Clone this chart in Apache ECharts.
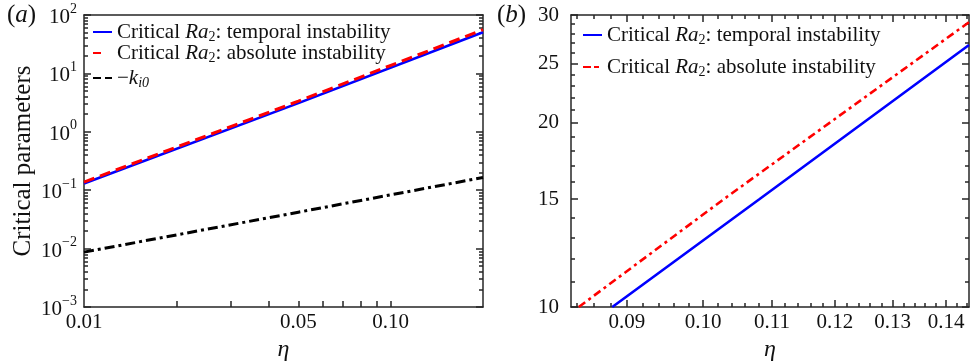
<!DOCTYPE html>
<html>
<head>
<meta charset="utf-8">
<script src="https://cdn.jsdelivr.net/npm/echarts@6/dist/echarts.min.js"></script>
<style>html,body{margin:0;padding:0;background:#fff}#c{width:973px;height:363px}</style>
</head>
<body>
<div id="c"></div>
<script>
// ---------- data ----------
// Panel (a): log-log
const etaA = [0.01, 0.05, 0.2];
const ra2TemporalA = [0.13, 3.1, 50.5];
const ra2AbsoluteA = [0.138, 3.35, 56];
const negKi0A = [0.0087, 0.042, 0.165];
// Panel (b)
const etaTemporalB = [0.0882, 0.1081, 0.1445];
const ra2TemporalB = [10, 15, 26.8];
const etaAbsoluteB = [0.0842, 0.1029, 0.1445];
const ra2AbsoluteB = [10, 15, 29.2];
// tick labels
const xTickValsA = [0.01, 0.05, 0.1];
const xTickLabelsA = ['0.01', '0.05', '0.10'];
const xMinorA = [0.02, 0.03, 0.04, 0.05, 0.06, 0.07, 0.08, 0.09, 0.1];
const yTickValsA = [0.001, 0.01, 0.1, 1, 10, 100];
const xTickValsB = [0.09, 0.10, 0.11, 0.12, 0.13, 0.14];
const xTickLabelsB = ['0.09', '0.10', '0.11', '0.12', '0.13', '0.14'];
const yTickValsB = [10, 15, 20, 25, 30];
const yTickLabelsB = ['10', '15', '20', '25', '30'];

// minor tick positions
const yMinorA = [];
for (let e = -3; e < 2; e++) for (let m = 2; m <= 9; m++) yMinorA.push(+(m * Math.pow(10, e)).toPrecision(3));
const xMinorB = [];
for (let k = 84; k <= 144; k += 2) if (k % 10 !== 0) xMinorB.push(k / 1000);
const yMinorB = [];
for (let k = 11; k < 30; k++) if (k % 5 !== 0) yMinorB.push(k);

const FONT = 'Liberation Serif';
const AX = '#262626';
const TXT = '#111';
const zip = (xs, ys) => xs.map((x, i) => [x, ys[i]]);

const supRich = {
  b: {fontFamily: FONT, fontSize: 21, color: TXT, lineHeight: 26, verticalAlign: 'bottom'},
  p: {fontFamily: FONT, fontSize: 14, color: TXT, lineHeight: 14, verticalAlign: 'top'}
};
const legRich = {
  n: {fontFamily: FONT, fontSize: 21, color: TXT, lineHeight: 24},
  i: {fontFamily: FONT, fontSize: 21, color: TXT, fontStyle: 'italic', lineHeight: 24},
  s: {fontFamily: FONT, fontSize: 14, color: TXT, lineHeight: 14, verticalAlign: 'bottom', padding: [9, 0, 0, 0]},
  si: {fontFamily: FONT, fontSize: 14, color: TXT, fontStyle: 'italic', lineHeight: 14, verticalAlign: 'bottom', padding: [9, 0, 0, 0]}
};
const legendText = {
  aT: '{n|Critical }{i|Ra}{s|2}{n|: temporal instability}',
  aA: '{n|Critical }{i|Ra}{s|2}{n|: absolute instability}',
  aK: '{n|−}{i|k}{si|i0}',
  bT: '{n|Critical }{i|Ra}{s|2}{n|: temporal instability}',
  bA: '{n|Critical }{i|Ra}{s|2}{n|: absolute instability}'
};

function mkAxis(o) {
  return {
    type: 'log', logBase: 10, gridIndex: o.grid, min: o.min, max: o.max, position: o.pos,
    name: o.name || '', nameLocation: 'middle', nameGap: o.nameGap || 0,
    nameTextStyle: o.nameStyle || {},
    axisLine: {show: !!o.line, onZero: false, lineStyle: {color: AX, width: 1.5}},
    axisTick: o.ticks && o.ticks.length ? {show: true, inside: true, length: o.len, customValues: o.ticks,
      lineStyle: {color: AX, width: 1.5}} : {show: false},
    axisLabel: o.labels ? {
      show: true, customValues: o.labels, formatter: o.fmt, margin: o.margin,
      fontFamily: FONT, fontSize: 21, color: TXT, rich: supRich
    } : {show: false},
    splitLine: {show: false}, minorTick: {show: false}, minorSplitLine: {show: false}
  };
}

const fmtXA = v => xTickLabelsA[xTickValsA.findIndex(t => Math.abs(t - v) < 1e-9)] || '';
const fmtYA = v => {
  const e = Math.round(Math.log10(v));
  return '{b|10}{p|' + (e < 0 ? '−' + (-e) : String(e)) + '}';
};
const fmtXB = v => xTickLabelsB[xTickValsB.findIndex(t => Math.abs(t - v) < 1e-9)] || '';
const fmtYB = v => yTickLabelsB[yTickValsB.findIndex(t => Math.abs(t - v) < 1e-9)] || '';

const etaStyle = {fontFamily: FONT, fontSize: 24, fontStyle: 'italic', color: TXT};
const XA = [0.01, 0.2], YA = [0.001, 100], XB = [0.0833, 0.1445], YB = [10, 30];
const MAJ = 7, MIN = 4;

const xAxes = [
  mkAxis({grid: 0, min: XA[0], max: XA[1], pos: 'bottom', line: true, len: 6, ticks: xMinorA, labels: xTickValsA, fmt: fmtXA, margin: 5, name: 'η', nameGap: 26, nameStyle: etaStyle}),
  mkAxis({grid: 0, min: XA[0], max: XA[1], pos: 'top', line: true}),
  mkAxis({grid: 1, min: XB[0], max: XB[1], pos: 'bottom', line: true, len: MAJ, ticks: xTickValsB, labels: xTickValsB, fmt: fmtXB, margin: 5, name: 'η', nameGap: 26, nameStyle: etaStyle}),
  mkAxis({grid: 1, min: XB[0], max: XB[1], pos: 'bottom', line: false, len: MIN, ticks: xMinorB}),
  mkAxis({grid: 1, min: XB[0], max: XB[1], pos: 'top', line: true, len: MAJ, ticks: xTickValsB}),
  mkAxis({grid: 1, min: XB[0], max: XB[1], pos: 'top', line: false, len: MIN, ticks: xMinorB})
];
const yAxes = [
  mkAxis({grid: 0, min: YA[0], max: YA[1], pos: 'left', line: true, len: MAJ, ticks: yTickValsA, labels: yTickValsA, fmt: fmtYA, margin: 7,
    name: 'Critical parameters', nameGap: 48, nameStyle: {fontFamily: FONT, fontSize: 25, color: TXT}}),
  mkAxis({grid: 0, min: YA[0], max: YA[1], pos: 'left', line: false, len: MIN, ticks: yMinorA}),
  mkAxis({grid: 0, min: YA[0], max: YA[1], pos: 'right', line: true, len: MAJ, ticks: yTickValsA}),
  mkAxis({grid: 0, min: YA[0], max: YA[1], pos: 'right', line: false, len: MIN, ticks: yMinorA}),
  mkAxis({grid: 1, min: YB[0], max: YB[1], pos: 'left', line: true, len: MAJ, ticks: yTickValsB, labels: yTickValsB, fmt: fmtYB, margin: 12}),
  mkAxis({grid: 1, min: YB[0], max: YB[1], pos: 'left', line: false, len: MIN, ticks: yMinorB}),
  mkAxis({grid: 1, min: YB[0], max: YB[1], pos: 'right', line: true, len: MAJ, ticks: yTickValsB}),
  mkAxis({grid: 1, min: YB[0], max: YB[1], pos: 'right', line: false, len: MIN, ticks: yMinorB})
];

function line(id, xi, yi, data, color, type, width) {
  return {
    type: 'line', name: id, xAxisIndex: xi, yAxisIndex: yi, data: data,
    symbol: 'none', showSymbol: false, smooth: false, silent: true, animation: false, clip: true,
    lineStyle: {color: color, width: width || 2.6, type: type, cap: 'butt'},
    itemStyle: {color: color}, z: 3
  };
}

const series = [
  line('aT', 0, 0, zip(etaA, ra2TemporalA), '#0000ff', 'solid'),
  line('aA', 0, 0, zip(etaA, ra2AbsoluteA), '#ff0000', [11, 6], 3),
  line('aK', 0, 0, zip(etaA, negKi0A), '#000000', [10, 4, 3, 4], 3),
  line('bT', 2, 4, zip(etaTemporalB, ra2TemporalB), '#0000ff', 'solid'),
  line('bA', 2, 4, zip(etaAbsoluteB, ra2AbsoluteB), '#ff0000', [8, 4, 3, 4], 2.6)
];

function legend(name, left, centerY, lineType) {
  const item = {name: name, itemStyle: {opacity: 0, color: 'transparent', borderWidth: 0}};
  if (lineType) item.lineStyle = {type: lineType};
  return {
    data: [item], left: left, top: centerY - 12, padding: 0, orient: 'vertical',
    itemWidth: 19, itemHeight: 14, selectedMode: false,
    itemStyle: {opacity: 0},
    formatter: n => legendText[n],
    textStyle: {fontFamily: FONT, fontSize: 21, color: TXT, rich: legRich}
  };
}

const titleRich = {
  p: {fontFamily: FONT, fontSize: 25, color: TXT, fontWeight: 'normal'},
  i: {fontFamily: FONT, fontSize: 25, fontStyle: 'italic', color: TXT, fontWeight: 'normal'}
};

const option = {
  animation: false,
  backgroundColor: '#fff',
  grid: [
    {left: 84, top: 15, width: 399, height: 292, outerBoundsMode: 'none', containLabel: false},
    {left: 571, top: 15, width: 398, height: 292, outerBoundsMode: 'none', containLabel: false}
  ],
  title: [
    {text: '{p|(}{i|a}{p|)}', left: 7, top: 3, padding: 0, textStyle: {fontWeight: 'normal', rich: titleRich}},
    {text: '{p|(}{i|b}{p|)}', left: 497, top: 3, padding: 0, textStyle: {fontWeight: 'normal', rich: titleRich}}
  ],
  legend: [
    legend('aT', 92, 33),
    legend('aA', 92, 54, [8, 20]),
    legend('aK', 92, 79, [8, 4]),
    legend('bT', 582, 36),
    legend('bA', 582, 68, [8, 3, 5, 3])
  ],
  xAxis: xAxes,
  yAxis: yAxes,
  series: series
};

const chart = echarts.init(document.getElementById('c'), null, {renderer: 'canvas'});
chart.setOption(option);
</script>
</body>
</html>
